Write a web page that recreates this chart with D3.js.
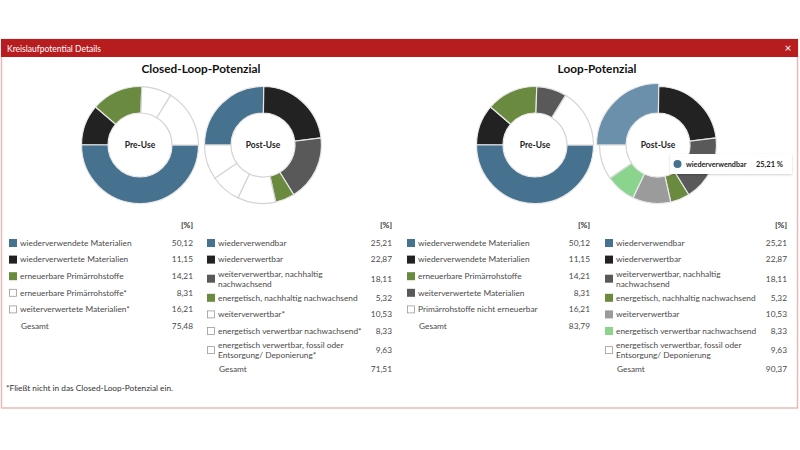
<!DOCTYPE html>
<html><head><meta charset="utf-8">
<script src="https://cdn.jsdelivr.net/npm/d3@7"></script>
<style>body{margin:0;background:#fff;overflow:hidden} text{font-family:Lato,"Open Sans",sans-serif}</style>
</head><body><svg id="c" width="800" height="450"></svg>
<script>
// ---------- data ----------
const closedPreLabels = ["wiederverwendete Materialien","wiederverwertete Materialien","erneuerbare Primärrohstoffe","erneuerbare Primärrohstoffe*","weiterverwertete Materialien*"];
const closedPreValues = [50.12, 11.15, 14.21, 8.31, 16.21];
const closedPreCounted = [true, true, true, false, false];

const closedPostLabels = ["wiederverwendbar","wiederverwertbar","weiterverwertbar, nachhaltig\nnachwachsend","energetisch, nachhaltig nachwachsend","weiterverwertbar*","energetisch verwertbar nachwachsend*","energetisch verwertbar, fossil oder\nEntsorgung/ Deponierung*"];
const closedPostValues = [25.21, 22.87, 18.11, 5.32, 10.53, 8.33, 9.63];
const closedPostCounted = [true, true, true, true, false, false, false];

const loopPreLabels = ["wiederverwendete Materialien","wiederverwendete Materialien","erneuerbare Primärrohstoffe","weiterverwertete Materialien","Primärrohstoffe nicht erneuerbar"];
const loopPreValues = [50.12, 11.15, 14.21, 8.31, 16.21];
const loopPreCounted = [true, true, true, true, false];

const loopPostLabels = ["wiederverwendbar","wiederverwertbar","weiterverwertbar, nachhaltig\nnachwachsend","energetisch, nachhaltig nachwachsend","weiterverwertbar","energetisch verwertbar nachwachsend","energetisch verwertbar, fossil oder\nEntsorgung/ Deponierung"];
const loopPostValues = [25.21, 22.87, 18.11, 5.32, 10.53, 8.33, 9.63];
const loopPostCounted = [true, true, true, true, true, true, false];

const tooltipItemIndex = 0; // hovered slice in Loop-Potenzial Post-Use

// ---------- styles ----------
const C = {blue:"#46718f", black:"#222222", dgrey:"#595959", green:"#6a8a40", lgrey:"#9b9b9b", lgreen:"#8bd48d", none:"#ffffff", hover:"#6b90ab"};
const closedPreColors  = [C.blue, C.black, C.green, C.none, C.none];
const closedPostColors = [C.blue, C.black, C.dgrey, C.green, C.none, C.none, C.none];
const loopPreColors    = [C.blue, C.black, C.green, C.dgrey, C.none];
const loopPostColors   = [C.blue, C.black, C.dgrey, C.green, C.lgrey, C.lgreen, C.none];

const fmt = d3.formatLocale({decimal:",", thousands:".", grouping:[3], currency:["",""]}).format(".2f");
const svg = d3.select("#c");

// window frame
svg.append("rect").attr("x",1.5).attr("y",39.5).attr("width",796).attr("height",368.5)
  .attr("fill","#fff").attr("stroke","#e9b9b9").attr("stroke-width",1.5);
svg.append("rect").attr("x",1).attr("y",39).attr("width",797).attr("height",18).attr("fill","#b71c1f");
svg.append("text").attr("x",7).attr("y",51.5).attr("fill","#fff").attr("font-size",8.5).text("Kreislaufpotential Details");
svg.append("text").attr("x",788).attr("y",52).attr("fill","#fff").attr("font-size",12).attr("text-anchor","middle").text("×");

// titles
svg.append("text").attr("x",201).attr("y",73).attr("text-anchor","middle").attr("font-size",11.8).attr("font-weight","bold").attr("fill","#111").text("Closed-Loop-Potenzial");
svg.append("text").attr("x",597).attr("y",73).attr("text-anchor","middle").attr("font-size",11.8).attr("font-weight","bold").attr("fill","#111").text("Loop-Potenzial");

const rIn = 32, rOut = 58.5;
function donut(cx, cy, values, colors, startAngle, label, hoverIdx) {
  const pie = d3.pie().sort(null).startAngle(startAngle).endAngle(startAngle + 2*Math.PI);
  const arc = d3.arc().innerRadius(rIn).outerRadius(rOut);
  const arcH = d3.arc().innerRadius(rIn).outerRadius(rOut + 3);
  const g = svg.append("g").attr("transform",`translate(${cx},${cy})`);
  const arcs = pie(values);
  g.selectAll("path").data(arcs).join("path")
    .attr("d",(d,i)=> i===hoverIdx ? arcH(d) : arc(d))
    .attr("fill",(d,i)=> i===hoverIdx ? C.hover : colors[i])
    .attr("stroke",(d,i)=> colors[i]===C.none ? "#d4d4d4" : "#e8e8e8")
    .attr("stroke-width",1.2);
  g.append("text").attr("y",3).attr("text-anchor","middle").attr("font-size",8.5).attr("font-weight","bold").attr("fill","#222").text(label);
}
donut(140,145,closedPreValues,closedPreColors,Math.PI/2,"Pre-Use",-1);
donut(263,145,closedPostValues,closedPostColors,-Math.PI/2,"Post-Use",-1);
donut(535,145,loopPreValues,loopPreColors,Math.PI/2,"Pre-Use",-1);
donut(658,145,loopPostValues,loopPostColors,-Math.PI/2,"Post-Use",tooltipItemIndex);

// tables
function table(sx, vx, labels, values, colors, counted) {
  const g = svg.append("g");
  const fs = 8.3, col = "#4a4a4a";
  const H1 = 16.6, H2 = 21.6;
  g.append("text").attr("x",vx).attr("y",228).attr("text-anchor","end").attr("font-size",fs).attr("font-weight","bold").attr("fill","#333").text("[%]");
  let y = 243;
  let prevH = 0;
  labels.forEach((lab,i)=>{
    const lines = lab.split("\n");
    const h = lines.length > 1 ? H2 : H1;
    if (i>0) y += (prevH + h)/2;
    prevH = h;
    if (colors[i]===C.none) {
      g.append("rect").attr("x",sx+0.5).attr("y",y-3.5).attr("width",7).attr("height",7).attr("fill","#fff").attr("stroke","#9a9a9a").attr("stroke-width",0.8);
    } else {
      g.append("rect").attr("x",sx).attr("y",y-4).attr("width",8).attr("height",8).attr("fill",colors[i]);
    }
    const t = g.append("text").attr("x",sx+11).attr("font-size",fs).attr("fill",col);
    lines.forEach((ln,k)=>{
      t.append("tspan").attr("x",sx+11).attr("y", y + 2.8 + (k - (lines.length-1)/2)*10).text(ln);
    });
    g.append("text").attr("x",vx).attr("y",y+2.8).attr("text-anchor","end").attr("font-size",fs).attr("fill",col).text(fmt(values[i]));
  });
  y += (prevH + H1)/2;
  const total = d3.sum(values.filter((v,i)=>counted[i]));
  g.append("text").attr("x",sx+12).attr("y",y+2.8).attr("font-size",fs).attr("fill",col).text("Gesamt");
  g.append("text").attr("x",vx).attr("y",y+2.8).attr("text-anchor","end").attr("font-size",fs).attr("fill",col).text(fmt(total));
}
table(9,193,closedPreLabels,closedPreValues,closedPreColors,closedPreCounted);
table(207,392,closedPostLabels,closedPostValues,closedPostColors,closedPostCounted);
table(407,590,loopPreLabels,loopPreValues,loopPreColors,loopPreCounted);
table(605,787,loopPostLabels,loopPostValues,loopPostColors,loopPostCounted);

svg.append("text").attr("x",6).attr("y",391).attr("font-size",8.3).attr("fill","#333").text("*Fließt nicht in das Closed-Loop-Potenzial ein.");

// tooltip
const defs = svg.append("defs");
const f = defs.append("filter").attr("id","sh").attr("x","-10%").attr("y","-30%").attr("width","120%").attr("height","160%");
f.append("feDropShadow").attr("dx",0).attr("dy",1).attr("stdDeviation",1.2).attr("flood-color","#000").attr("flood-opacity",0.18);
const tt = svg.append("g").attr("transform","translate(670,154)");
tt.append("rect").attr("width",122).attr("height",20).attr("fill","#fff").attr("filter","url(#sh)");
tt.append("circle").attr("cx",7.5).attr("cy",10).attr("r",4).attr("fill",C.blue);
tt.append("text").attr("x",16).attr("y",13).attr("font-size",7.2).attr("font-weight","bold").attr("fill","#222").text(loopPostLabels[tooltipItemIndex]);
tt.append("text").attr("x",113).attr("y",13).attr("text-anchor","end").attr("font-size",7.5).attr("font-weight","bold").attr("fill","#222").text(fmt(loopPostValues[tooltipItemIndex]) + " %");
</script></body></html>
